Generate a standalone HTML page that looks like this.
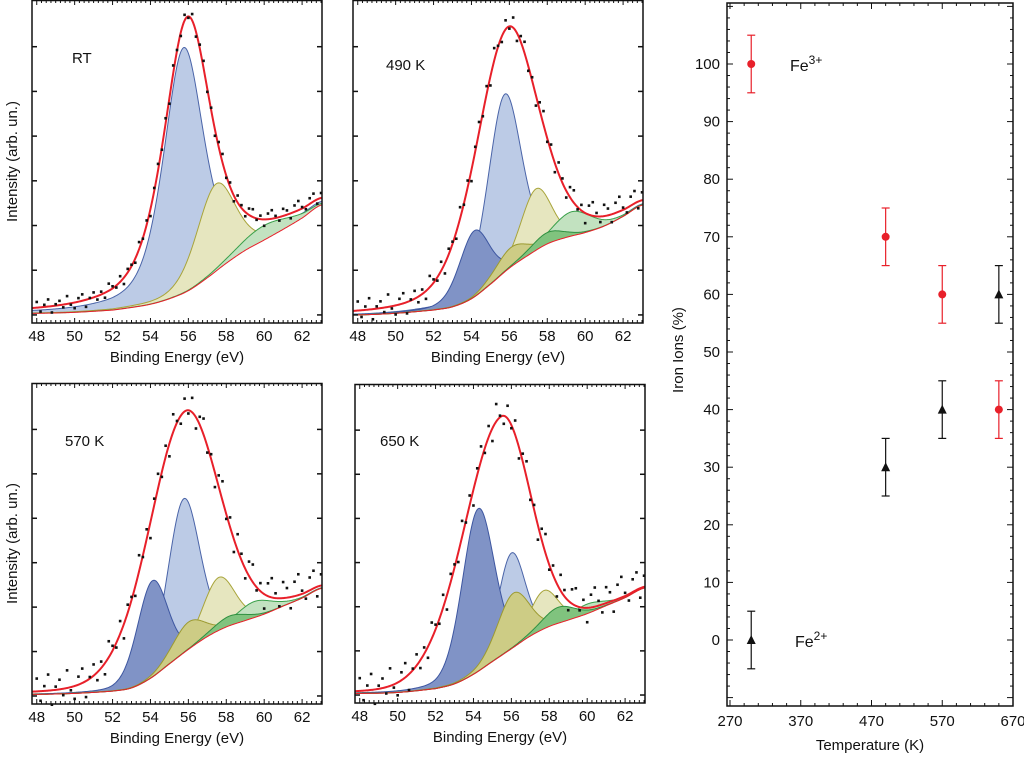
<!DOCTYPE html>
<html><head><meta charset="utf-8">
<style>
html,body{margin:0;padding:0;background:#fff;}
svg{display:block;font-family:"Liberation Sans",Arial,sans-serif;}
</style></head>
<body>
<svg id="fig" width="1024" height="757" viewBox="0 0 1024 757" xmlns="http://www.w3.org/2000/svg"></svg>
<script>
// ---------- XPS spectra data ----------
const panelLabels = ["RT","490 K","570 K","650 K"];
const bgEnergies = [48,50,52,53,54,55,56,57,58,59,60,61,62,63];
const bgRT  = [.03,.033,.04,.048,.058,.075,.10,.14,.185,.225,.257,.29,.325,.365];
const bg490 = [.025,.03,.04,.05,.075,.12,.17,.21,.245,.265,.28,.30,.33,.365];
const bg570 = [.03,.033,.04,.05,.08,.125,.17,.21,.24,.26,.28,.305,.33,.36];
const bg650 = [.03,.033,.045,.06,.09,.13,.17,.21,.24,.26,.28,.305,.33,.36];
// components: type, center (eV), height, HWHM, lorentz fraction
const compTypeRT = ["lightblue","yellow","green"];
const compCenRT  = [55.75,57.45,60.0];
const compHRT    = [0.76,0.27,0.045];
const compWRT    = [1.25,1.2,1.5];
const compEtaRT  = [0.5,0.3,0.3];
const compType490 = ["lightblue","darkblue","yellow","olive","green","darkgreen"];
const compCen490  = [55.75,54.15,57.4,56.1,59.3,58.0];
const compH490    = [0.55,0.205,0.19,0.06,0.075,0.035];
const compW490    = [1.05,0.95,0.95,1.0,1.2,1.0];
const compEta490  = [0.3,0.3,0.2,0.2,0.2,0.2];
const compType570 = ["lightblue","darkblue","yellow","olive","green","darkgreen"];
const compCen570  = [55.75,54.1,57.6,56.0,59.5,58.2];
const compH570    = [0.48,0.30,0.165,0.085,0.05,0.03];
const compW570    = [1.0,0.95,1.0,1.0,1.1,1.0];
const compEta570  = [0.2,0.2,0.2,0.2,0.2,0.2];
const compType650 = ["lightblue","darkblue","yellow","olive","green","darkgreen"];
const compCen650  = [56.0,54.25,57.7,56.1,60.0,58.5];
const compH650    = [0.30,0.51,0.12,0.17,0.03,0.05];
const compW650    = [0.85,1.0,0.9,1.0,1.0,1.0];
const compEta650  = [0.2,0.2,0.2,0.2,0.2,0.2];
// envelope fit: center, height, left HWHM, right HWHM, lorentz fraction
const envRT  = [55.95,0.85,1.5,1.5,0.6];
const env490 = [55.9,0.75,2.0,1.9,0.3];
const env570 = [55.8,0.75,2.3,2.1,0.15];
const env650 = [55.45,0.75,2.4,1.8,0.1];
// measured points scatter (residual shape, scaled per panel)
const residual = [0.8,-0.6,0.3,1.0,-0.9,0.2,0.6,-0.4,1.1,-0.2,-0.8,0.5,0.9,-1.0,0.1,0.7,-0.5,0.4,-0.7,1.0,
 0.3,-0.3,0.8,-0.9,0.5,0.2,-0.6,1.0,-0.1,0.6,-1.0,0.4,0.9,-0.3,0.7,-0.8,1.1,0.1,-0.5,0.8,
 -0.2,0.9,-0.7,0.5,1.0,-0.4,0.3,-0.9,0.7,1.2,-0.3,0.6,-0.8,1.0,0.4,-0.6,0.9,1.1,-0.2,0.5,
 -0.9,0.8,1.2,0.3,-0.5,1.0,0.6,-0.7,0.9,1.3,0.2,-0.4,0.8,1.1,-0.6,0.7];
const noiseAmp = [0.022,0.035,0.05,0.05];

// ---------- Iron ions data ----------
const temps = [300,490,570,650];
const fe3 = [100,70,60,40];
const fe2 = [0,30,40,60];
const errs = [5,5,5,5];
const xTicks = [270,370,470,570,670];
const yTicks = [0,10,20,30,40,50,60,70,80,90,100];
const eTicks = [48,50,52,54,56,58,60,62];

const NS="http://www.w3.org/2000/svg";
const svg=document.getElementById('fig');
function mk(tag,attrs,parent){const e=document.createElementNS(NS,tag);for(const k in attrs)e.setAttribute(k,attrs[k]);(parent||svg).appendChild(e);return e;}

const colors={lightblue:["#bccbe6","#4a64a8"],darkblue:["#8093c6","#3d56a0"],yellow:["#e6e6bf","#a8a43a"],olive:["#cdcc85","#9c9a30"],green:["#c2e2c0","#3aa04a"],darkgreen:["#80c37e","#2f9040"]};

const panels=[
 {x0:32,x1:322,y0:0,y1:323,bg:bgRT,type:compTypeRT,cen:compCenRT,h:compHRT,w:compWRT,eta:compEtaRT,env:envRT,lx:72,ly:63,name:"rt"},
 {x0:353,x1:643,y0:0,y1:323,bg:bg490,type:compType490,cen:compCen490,h:compH490,w:compW490,eta:compEta490,env:env490,lx:386,ly:70,name:"490k"},
 {x0:32,x1:322,y0:383,y1:704,bg:bg570,type:compType570,cen:compCen570,h:compH570,w:compW570,eta:compEta570,env:env570,lx:65,ly:446,name:"570k"},
 {x0:355,x1:645,y0:384,y1:703,bg:bg650,type:compType650,cen:compCen650,h:compH650,w:compW650,eta:compEta650,env:env650,lx:380,ly:446,name:"650k"}];
const EMIN=47.75,EMAX=63.05;

function interp(xs,ys,x){ // Catmull-Rom
 let i=0; while(i<xs.length-2 && x>xs[i+1]) i++;
 const t=(x-xs[i])/(xs[i+1]-xs[i]);
 const p0=ys[Math.max(i-1,0)],p1=ys[i],p2=ys[i+1],p3=ys[Math.min(i+2,ys.length-1)];
 const t2=t*t,t3=t2*t;
 return 0.5*((2*p1)+(-p0+p2)*t+(2*p0-5*p1+4*p2-p3)*t2+(-p0+3*p1-3*p2+p3)*t3);
}
function pv(E,c,h,w,eta){const d=(E-c)/w;return h*((1-eta)*Math.exp(-0.693*d*d)+eta/(1+d*d));}

panels.forEach((p,pi)=>{
 const g=mk('g',{});
 
 
 const X=E=>p.x0+(E-EMIN)/(EMAX-EMIN)*(p.x1-p.x0);
 const Y=f=>p.y1-f*(p.y1-p.y0);
 const bgf=E=>interp(bgEnergies,p.bg,E);
 const Es=[];for(let E=EMIN;E<=EMAX+1e-9;E+=0.05)Es.push(E);
 p.type.forEach((t,ci)=>{
  let top='',bot='';
  Es.forEach((E,k)=>{top+=(k?'L':'M')+X(E).toFixed(2)+','+Y(bgf(E)+pv(E,p.cen[ci],p.h[ci],p.w[ci],p.eta[ci])).toFixed(2);});
  for(let k=Es.length-1;k>=0;k--)bot+='L'+X(Es[k]).toFixed(2)+','+Y(bgf(Es[k])).toFixed(2);
  const a=mk('path',{d:top+bot+'Z',fill:colors[t][0],stroke:'none'},g);
  
  
  const l=mk('path',{d:top,fill:'none',stroke:colors[t][1],'stroke-width':1},g);
  
  
 });
 let bd='';Es.forEach((E,k)=>{bd+=(k?'L':'M')+X(E).toFixed(2)+','+Y(bgf(E)).toFixed(2);});
 const bl=mk('path',{d:bd,fill:'none',stroke:'#e8202a','stroke-width':1},g);
 
 
 const env=p.env;
 const envf=E=>bgf(E)+pv(E,env[0],env[1],E<env[0]?env[2]:env[3],env[4]);
 let ed='';Es.forEach((E,k)=>{ed+=(k?'L':'M')+X(E).toFixed(2)+','+Y(envf(E)).toFixed(2);});
 const el=mk('path',{d:ed,fill:'none',stroke:'#e8202a','stroke-width':2},g);
 
 
 residual.forEach((r,k)=>{
  const E=48+k*0.2; if(E>EMAX)return;
  const d=mk('rect',{x:(X(E)-1.3).toFixed(2),y:(Y(envf(E)+r*noiseAmp[pi])-1.3).toFixed(2),width:2.6,height:2.6,fill:'#111'},g);
  
  
 });
 const fr=mk('rect',{x:p.x0,y:p.y0+0.5,width:p.x1-p.x0,height:p.y1-p.y0-0.5,fill:'none',stroke:'#111','stroke-width':1.5},g);
 
 
 for(let E=48;E<=63.001;E+=0.25){
  const major=Math.abs(E-Math.round(E))<1e-6&&Math.round(E)%2===0;
  const len=major?5:3;
  mk('line',{x1:X(E),x2:X(E),y1:p.y1,y2:p.y1-len,stroke:'#111','stroke-width':1},g);
  mk('line',{x1:X(E),x2:X(E),y1:p.y0,y2:p.y0+len,stroke:'#111','stroke-width':1},g);
 }
 eTicks.forEach(E=>{
  const t=mk('text',{x:X(E),y:p.y1+18,'font-size':15,'text-anchor':'middle',fill:'#111'},g);
  t.textContent=E;
  
  
 });
 for(let k=0;k<7;k++){
  const yy=Y(0.025+k*0.1384);
  mk('line',{x1:p.x0,x2:p.x0+5,y1:yy,y2:yy,stroke:'#111','stroke-width':1.5},g);
  mk('line',{x1:p.x1,x2:p.x1-5,y1:yy,y2:yy,stroke:'#111','stroke-width':1.5},g);
 }
 const xt=mk('text',{x:(p.x0+p.x1)/2,y:p.y1+39,'font-size':15,'text-anchor':'middle',fill:'#111'},g);
 xt.textContent='Binding Energy (eV)';
 
 
 const lb=mk('text',{x:p.lx,y:p.ly,'font-size':15,fill:'#111'},g);
 lb.textContent=panelLabels[pi];
 
 
 if(p.x0<100){
  const cy=(p.y0+p.y1)/2;
  const yt=mk('text',{x:17,y:cy,'font-size':15,'text-anchor':'middle',fill:'#111',transform:'rotate(-90 17 '+cy+')'},g);
  yt.textContent='Intensity (arb. un.)';
  
  
 }
});

// ---------- Right chart ----------
const R={x0:727,x1:1013,y0:3,y1:706};
const TX=T=>730+(T-270)*0.7075;
const VY=v=>640-v*5.76;
const rg=mk('g',{});


const rf=mk('rect',{x:R.x0,y:R.y0,width:R.x1-R.x0,height:R.y1-R.y0,fill:'none',stroke:'#111','stroke-width':1.5},rg);


for(let T=270;T<=670;T+=20){
 const len=(T-270)%100===0?6:3;
 mk('line',{x1:TX(T),x2:TX(T),y1:R.y1,y2:R.y1-len,stroke:'#111'},rg);
 mk('line',{x1:TX(T),x2:TX(T),y1:R.y0,y2:R.y0+len,stroke:'#111'},rg);
}
for(let v=-10;v<=110;v+=2){
 const yy=VY(v); if(yy<R.y0||yy>R.y1)continue;
 const len=v%10===0?6:3;
 mk('line',{x1:R.x0,x2:R.x0+len,y1:yy,y2:yy,stroke:'#111'},rg);
 mk('line',{x1:R.x1,x2:R.x1-len,y1:yy,y2:yy,stroke:'#111'},rg);
}
xTicks.forEach(T=>{
 const t=mk('text',{x:TX(T),y:R.y1+20,'font-size':15,'text-anchor':'middle',fill:'#111'},rg);
 t.textContent=T;
 
 
});
yTicks.forEach(v=>{
 const t=mk('text',{x:R.x0-7,y:VY(v)+5,'font-size':15,'text-anchor':'end',fill:'#111'},rg);
 t.textContent=v;
 
 
});
const rxt=mk('text',{x:870,y:750,'font-size':15,'text-anchor':'middle',fill:'#111'},rg);
rxt.textContent='Temperature (K)';


const ryt=mk('text',{x:683,y:350,'font-size':15,'text-anchor':'middle',fill:'#111',transform:'rotate(-90 683 350)'},rg);
ryt.textContent='Iron Ions (%)';


function errbar(T,v,e,col){
 const x=TX(T);
 mk('line',{x1:x,x2:x,y1:VY(v+e),y2:VY(v-e),stroke:col,'stroke-width':1.2},rg);
 mk('line',{x1:x-4,x2:x+4,y1:VY(v+e),y2:VY(v+e),stroke:col,'stroke-width':1.2},rg);
 mk('line',{x1:x-4,x2:x+4,y1:VY(v-e),y2:VY(v-e),stroke:col,'stroke-width':1.2},rg);
}
temps.forEach((T,i)=>{
 errbar(T,fe3[i],errs[i],'#e8202a');
 const c=mk('circle',{cx:TX(T),cy:VY(fe3[i]),r:4,fill:'#e8202a'},rg);
 
 
 errbar(T,fe2[i],errs[i],'#111');
 const x=TX(T),y=VY(fe2[i]);
 const tr=mk('polygon',{points:(x-4.5)+','+(y+4)+' '+(x+4.5)+','+(y+4)+' '+x+','+(y-5),fill:'#111'},rg);
 
 
});
const l3=mk('text',{x:790,y:71,'font-size':16,fill:'#111'},rg);
l3.innerHTML='Fe<tspan dy="-7" font-size="12">3+</tspan>';


const l2=mk('text',{x:795,y:647,'font-size':16,fill:'#111'},rg);
l2.innerHTML='Fe<tspan dy="-7" font-size="12">2+</tspan>';


</script>
</body></html>
